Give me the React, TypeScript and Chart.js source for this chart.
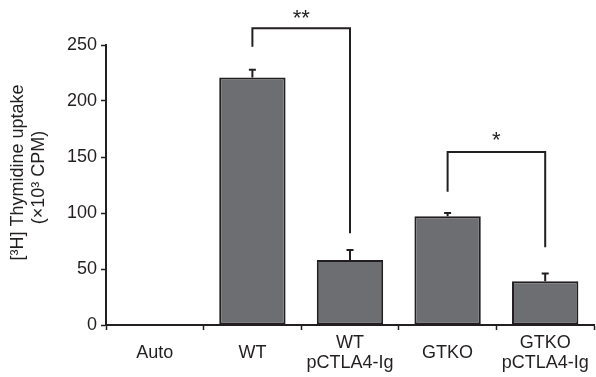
import React, { useEffect, useRef } from "react";
import { Chart, registerables } from "chart.js";

Chart.register(...registerables);

const categories: string[][] = [["Auto"], ["WT"], ["WT", "pCTLA4-Ig"], ["GTKO"], ["GTKO", "pCTLA4-Ig"]];
const uptake: (number | null)[] = [null, 221, 58, 97, 39];
const sem: (number | null)[] = [null, 7, 9, 3, 7];
const yTicks: number[] = [0, 50, 100, 150, 200, 250];

const bracketFrom: number[] = [1, 3];
const bracketTo: number[] = [2, 4];
const bracketTop: number[] = [265, 154.5];
const bracketLeftEnd: number[] = [248.5, 119];
const bracketRightEnd: number[] = [82, 69.5];
const bracketLabel: string[] = ["**", "*"];
const bracketLabelY: number[] = [273, 164];

const INK = "#231f20";
const FONT = "'Liberation Sans', Arial, Helvetica, sans-serif";

const annotations = {
  id: "annotations",
  afterDatasetsDraw(chart: any) {
    const { ctx, scales } = chart;
    const x = scales.x;
    const y = scales.y;
    ctx.save();
    ctx.strokeStyle = INK;
    ctx.fillStyle = INK;
    ctx.lineWidth = 2;
    // error bars
    uptake.forEach((v, i) => {
      const e = sem[i];
      if (v == null || e == null) return;
      const px = x.getPixelForValue(i);
      const y0 = y.getPixelForValue(v);
      const y1 = y.getPixelForValue(v + e);
      ctx.beginPath();
      ctx.moveTo(px, y0);
      ctx.lineTo(px, y1);
      ctx.moveTo(px - 3.5, y1);
      ctx.lineTo(px + 3.5, y1);
      ctx.stroke();
    });
    // significance brackets
    bracketFrom.forEach((from, k) => {
      const x0 = x.getPixelForValue(from);
      const x1 = x.getPixelForValue(bracketTo[k]);
      const top = y.getPixelForValue(bracketTop[k]);
      ctx.beginPath();
      ctx.moveTo(x0, y.getPixelForValue(bracketLeftEnd[k]));
      ctx.lineTo(x0, top);
      ctx.lineTo(x1, top);
      ctx.lineTo(x1, y.getPixelForValue(bracketRightEnd[k]));
      ctx.stroke();
      ctx.font = `22px ${FONT}`;
      ctx.textAlign = "center";
      ctx.textBaseline = "middle";
      ctx.fillText(bracketLabel[k], (x0 + x1) / 2, y.getPixelForValue(bracketLabelY[k]));
    });
    ctx.restore();
  },
};

export default function App() {
  const ref = useRef<HTMLCanvasElement | null>(null);
  useEffect(() => {
    document.body.style.margin = "0";
    if (!ref.current) return;
    const chart = new Chart(ref.current, {
      type: "bar",
      data: {
        labels: categories,
        datasets: [
          {
            data: uptake,
            backgroundColor: "#6d6e71",
            borderColor: INK,
            borderWidth: 2,
            borderSkipped: false,
            barPercentage: 0.68,
            categoryPercentage: 1,
          },
        ],
      },
      options: {
        animation: false,
        responsive: false,
        events: [],
        layout: { padding: { top: 45, right: 2, left: 0, bottom: 0 } },
        plugins: {
          legend: { display: false },
          tooltip: { enabled: false },
        },
        scales: {
          x: {
            afterFit: (s: any) => {
              s.height = 52;
              s.paddingLeft = 0;
              s.paddingRight = 0;
            },
            border: { display: true, color: INK, width: 2 },
            grid: {
              offset: true,
              drawOnChartArea: false,
              drawTicks: true,
              tickLength: 5,
              tickColor: INK,
              tickWidth: 1.5,
            },
            ticks: {
              color: INK,
              font: { family: FONT, size: 18, lineHeight: 1.11 },
              crossAlign: "center",
              padding: 13,
              maxRotation: 0,
              autoSkip: false,
            },
          },
          y: {
            min: 0,
            max: 250,
            afterFit: (s: any) => {
              s.width = 106;
            },
            afterBuildTicks: (s: any) => {
              s.ticks = yTicks.map((v) => ({ value: v }));
            },
            border: { display: true, color: INK, width: 2 },
            grid: {
              drawOnChartArea: false,
              drawTicks: true,
              tickLength: 5,
              tickColor: INK,
              tickWidth: 1.5,
            },
            ticks: {
              color: INK,
              font: { family: FONT, size: 18 },
              padding: 4,
            },
            title: {
              display: true,
              text: ["     [³H] Thymidine uptake", "   (×10³ CPM)"],
              color: INK,
              font: { family: FONT, size: 18, lineHeight: 1.15 },
              padding: { top: 8, bottom: 0 },
            },
          },
        },
      },
      plugins: [annotations],
    });
    return () => chart.destroy();
  }, []);
  return (
    <div style={{ width: 596, height: 377 }}>
      <canvas ref={ref} width={596} height={377} style={{ display: "block" }} />
    </div>
  );
}
